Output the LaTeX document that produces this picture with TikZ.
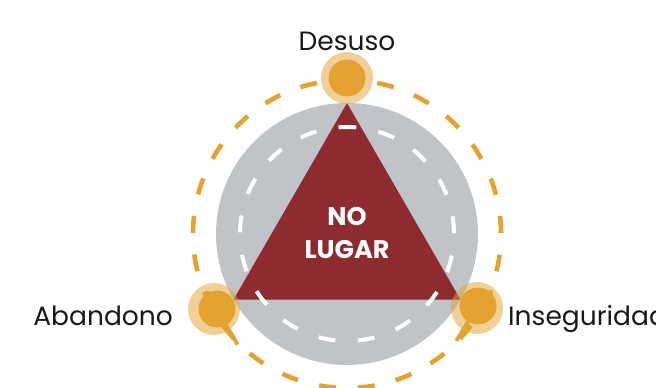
\documentclass[tikz,border=0pt]{standalone}
\usepackage{fontspec}
\setmainfont{Poppins}
\usetikzlibrary{calc}
\usetikzlibrary{positioning}

\definecolor{nlgray}{HTML}{C1C4C7}
\definecolor{nlorange}{HTML}{E4A230}
\definecolor{nlred}{HTML}{8E2B31}

\begin{document}
\begin{tikzpicture}[x=1pt,y=1pt,
    halo/.style={circle,fill=nlorange,fill opacity=0.5,inner sep=0pt,minimum size=52pt},
    dot/.style={circle,fill=nlorange,inner sep=0pt,minimum size=37pt},
    bump/.style={circle,fill=nlorange,inner sep=0pt,minimum size=5pt},
    stick/.style={draw=nlorange,line width=3.8pt},
    lab/.style={font=\fontsize{26.5}{30}\selectfont,text=black!90,inner sep=0pt}]

  \useasboundingbox (-347,-154) rectangle (309,234);

  \node [circle,fill=nlgray,inner sep=0pt,minimum size=262pt] (disc) at (0,0) {};

  \path [draw=nlorange,line width=4.6pt,dash pattern=on 17pt off 21.7pt,dash phase=8.5pt]
    (90:154pt) arc [start angle=90,end angle=450,radius=154pt];

  \coordinate (top) at (90:131pt);
  \coordinate (left) at (210:131pt);
  \coordinate (right) at (330:131pt);
  \path [fill=nlred] (top) -- (left) -- (right) -- cycle;

  \path [draw=white,line width=4pt,dash pattern=on 17pt off 22.5pt,dash phase=8.5pt]
    (90:107pt) arc [start angle=90,end angle=450,radius=107pt];

  \node [halo] (desuso_halo) at (0,156) {};
  \node [dot] (desuso_dot) at (0,156) {};

  \node [halo] (aband_halo) at (-133,-75) {};
  \node [dot] (aband_dot) at (-130,-75) {};
  \node [bump] (aband_bump) at (aband_dot.121) {};
  \coordinate (aband_tip) at ($(aband_dot)+(-60:41pt)$);
  \path [stick] (aband_dot.-60) -- (aband_tip);

  \node [halo] (inseg_halo) at (130,-74) {};
  \node [dot] (inseg_dot) at (131,-72) {};
  \node [bump] (inseg_bump) at (inseg_dot.47) {};
  \coordinate (inseg_tip) at ($(inseg_dot)+(-122:41pt)$);
  \path [stick] (inseg_dot.-122) -- (inseg_tip);

  \node [lab,anchor=base] (desuso) at (0,183) {Desuso};
  \node [lab,anchor=base east] (abandono) at (-174,-91) {Abandono};
  \node [lab,anchor=base west] (inseg) at (161,-91) {Inseguridad};

  \node [align=center,text=white,font=\fontsize{25.5}{33}\selectfont\bfseries] (nolugar) at (0,1) {NO\\LUGAR};
\end{tikzpicture}
\end{document}
